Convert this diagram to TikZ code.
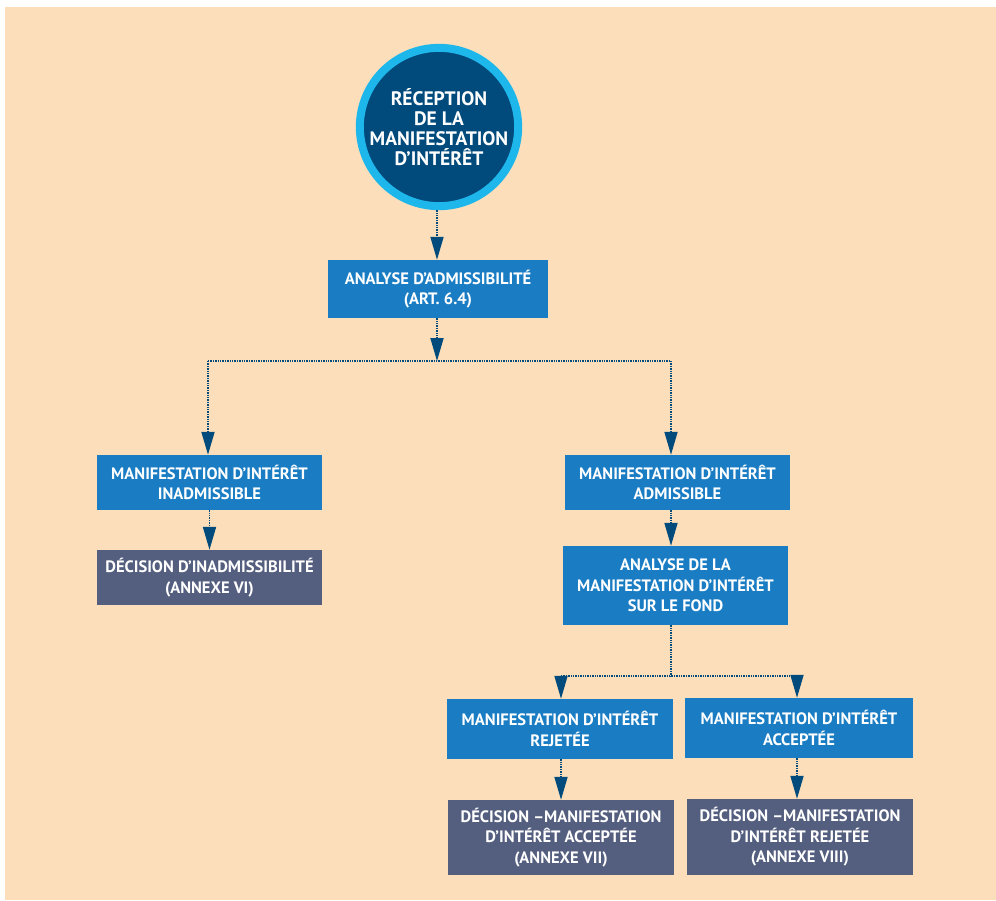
\documentclass[tikz,border=0pt]{standalone}
\usepackage{fontspec}
\setmainfont{PT Sans}
\usetikzlibrary{arrows.meta}
\definecolor{peach}{RGB}{252,223,186}
\definecolor{boxblue}{RGB}{26,125,196}
\definecolor{slate}{RGB}{84,94,126}
\definecolor{ringblue}{RGB}{30,183,236}
\definecolor{navy}{RGB}{0,74,124}

\begin{document}
\begin{tikzpicture}[x=1pt,y=-1pt,>={Triangle[width=13pt,length=23pt]},
	link/.style={navy,line width=1.8pt,dash pattern=on 1.4pt off 1pt},
	step node/.style={rectangle,fill=boxblue,text=white,inner sep=0pt,align=center,
		minimum width=225pt,minimum height=55pt,font=\bfseries\fontsize{16.5}{20.5}\selectfont},
	decision node/.style={step node,fill=slate},
	start node/.style={circle,fill=navy,draw=ringblue,line width=8pt,minimum size=158pt,
		inner sep=0pt,align=center,text=white,font=\bfseries\fontsize{19.5}{20}\selectfont}]

	\useasboundingbox (0,0) rectangle (996,900);
	\fill[white] (0,0) rectangle (996,900);
	\fill[peach] (5,7) rectangle (996,900);

	\node[start node] (start) at (439,127) {RÉCEPTION\\DE LA\\MANIFESTATION\\D’INTÉRÊT};
	\node[step node,minimum width=220pt,minimum height=58pt] (adm) at (438,289) {ANALYSE D’ADMISSIBILITÉ\\(ART. 6.4)};
	\node[step node] (inad) at (209.5,482.5) {MANIFESTATION D’INTÉRÊT\\INADMISSIBLE};
	\node[decision node] (decinad) at (209.5,577.5) {DÉCISION D’INADMISSIBILITÉ\\(ANNEXE VI)};
	\node[step node] (admis) at (677.5,482.5) {MANIFESTATION D’INTÉRÊT\\ADMISSIBLE};
	\node[step node,minimum height=79pt] (fond) at (675.5,585.5) {ANALYSE DE LA\\MANIFESTATION D’INTÉRÊT\\SUR LE FOND};
	\node[step node,minimum width=226pt,minimum height=60pt] (rej) at (560,729) {MANIFESTATION D’INTÉRÊT\\REJETÉE};
	\node[step node,minimum width=228pt,minimum height=60pt] (acc) at (799,728) {MANIFESTATION D’INTÉRÊT\\ACCEPTÉE};
	\node[decision node,minimum width=226pt,minimum height=75pt] (decacc) at (561,837.5) {DÉCISION –MANIFESTATION\\D’INTÉRÊT ACCEPTÉE\\(ANNEXE VII)};
	\node[decision node,minimum width=226pt,minimum height=76pt] (decrej) at (800,837) {DÉCISION –MANIFESTATION\\D’INTÉRÊT REJETÉE\\(ANNEXE VIII)};

	% split points
	\coordinate (split) at (437,361);
	\coordinate (jl) at (208,361);
	\coordinate (jr) at (671,361);
	\coordinate (split2) at (671,676);
	\coordinate (jl2) at (561,676);
	\coordinate (jr2) at (797,676);

	\draw[link,->] (start.south -| split) -- (split |- adm.north);
	\draw[link,->] (split |- adm.south) -- (split);
	\draw[link] (jl) -- (jr);
	\draw[link,->] (jl) -- (jl |- inad.north);
	\draw[link,->] (jr) -- (jr |- admis.north);
	\draw[link,->] (inad) -- (decinad);
	\draw[link,->] (jr |- admis.south) -- (jr |- fond.north);
	\draw[link] (jr |- fond.south) -- (split2);
	\draw[link] (jl2) -- (jr2);
	\draw[link,->] (jl2) -- (jl2 |- rej.north);
	\draw[link,->] (jr2) -- (jr2 |- acc.north);
	\draw[link,->] (rej.south -| decacc) -- (decacc);
	\draw[link,->] (acc.south -| jr2) -- (jr2 |- decrej.north);
\end{tikzpicture}
\end{document}
